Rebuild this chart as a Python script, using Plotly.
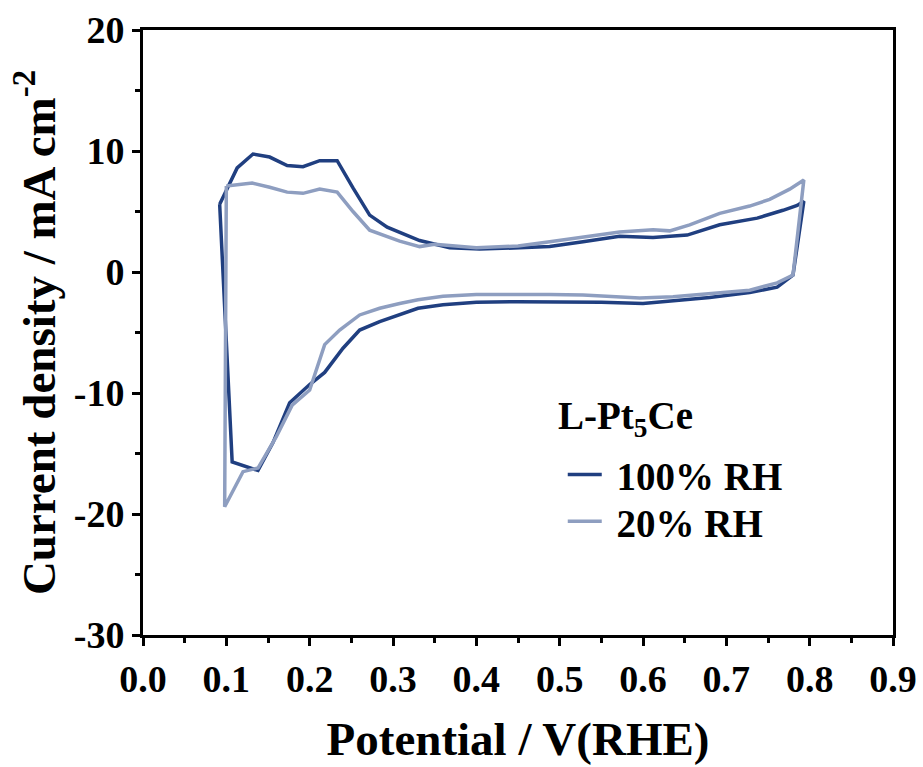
import plotly.graph_objects as go

# 100% RH
x_100 = [0.092, 0.113, 0.132, 0.152, 0.173, 0.192, 0.212, 0.233, 0.252, 0.272, 0.293, 0.308,
         0.332, 0.368, 0.404, 0.452, 0.488, 0.528, 0.572, 0.612, 0.653, 0.692, 0.737, 0.768,
         0.785, 0.793,
         0.78, 0.761, 0.728, 0.68, 0.636, 0.6, 0.55, 0.5, 0.45, 0.4, 0.36, 0.33, 0.308, 0.284,
         0.26, 0.24, 0.218, 0.2, 0.176, 0.156, 0.138, 0.107, 0.092]
y_100 = [5.6, 8.6, 9.75, 9.5, 8.8, 8.7, 9.2, 9.2, 6.95, 4.7, 3.7, 3.3,
         2.6, 2.0, 1.9, 2.0, 2.1, 2.5, 2.95, 2.85, 3.05, 3.9, 4.45, 5.1,
         5.5, 5.85,
         -0.25, -1.25, -1.7, -2.1, -2.4, -2.6, -2.5, -2.45, -2.45, -2.5, -2.7, -3.0, -3.55, -4.1,
         -4.8, -6.3, -8.3, -9.3, -10.8, -14.1, -16.4, -15.7, 5.6]

# 20% RH
x_20 = [0.1, 0.131, 0.152, 0.173, 0.192, 0.212, 0.233, 0.252, 0.272, 0.293, 0.308, 0.332,
        0.35, 0.4, 0.45, 0.488, 0.528, 0.572, 0.612, 0.632, 0.656, 0.692, 0.728, 0.752,
        0.776, 0.793,
        0.78, 0.761, 0.728, 0.68, 0.636, 0.596, 0.528, 0.488, 0.45, 0.4, 0.36, 0.33, 0.308,
        0.284, 0.26, 0.236, 0.218, 0.2, 0.179, 0.16, 0.138, 0.12, 0.098, 0.1]
y_20 = [7.1, 7.35, 7.0, 6.6, 6.5, 6.85, 6.6, 5.0, 3.45, 2.9, 2.55, 2.1,
        2.3, 2.0, 2.15, 2.5, 2.9, 3.3, 3.5, 3.4, 3.9, 4.85, 5.45, 6.0,
        6.85, 7.6,
        -0.25, -0.9, -1.5, -1.8, -2.05, -2.15, -1.9, -1.85, -1.85, -1.85, -2.0, -2.3, -2.6,
        -3.0, -3.55, -4.8, -6.0, -9.75, -11.0, -13.6, -16.2, -16.5, -19.4, 7.1]

x_ticks = [0.0, 0.1, 0.2, 0.3, 0.4, 0.5, 0.6, 0.7, 0.8, 0.9]
x_labels = ["0.0", "0.1", "0.2", "0.3", "0.4", "0.5", "0.6", "0.7", "0.8", "0.9"]
y_ticks = [-30, -20, -10, 0, 10, 20]
y_labels = ["-30", "-20", "-10", "0", "10", "20"]

legend_heading = "L-Pt<sub>5</sub>Ce"

FONT = "Liberation Serif"
DARK = "#203f80"
LIGHT = "#8e9ec0"
NB = "\u00a0"

fig = go.Figure()
fig.add_trace(go.Scatter(x=x_100, y=y_100, mode="lines", name=NB + "100% RH",
                         line=dict(color=DARK, width=3.5), legend="legend"))
fig.add_trace(go.Scatter(x=x_20, y=y_20, mode="lines", name=NB + "20% RH",
                         line=dict(color=LIGHT, width=3.5), legend="legend2"))

axis_common = dict(
    showline=True, linecolor="black", linewidth=3, mirror=True,
    ticks="outside", ticklen=8, tickwidth=3, tickcolor="black",
    showgrid=False, zeroline=False, automargin=False,
    tickfont=dict(family=FONT, size=38, color="black", weight="bold"),
)

fig.update_xaxes(
    range=[0, 0.9], tickvals=x_ticks, ticktext=x_labels,
    minor=dict(dtick=0.05, tick0=0, ticks="outside", ticklen=5, tickwidth=3, tickcolor="black"),
    title=dict(text="Potential / V(RHE)", font=dict(family=FONT, size=47, color="black", weight="bold"),
               standoff=24),
    **axis_common)
fig.update_yaxes(
    range=[-30, 20], tickvals=y_ticks, ticktext=y_labels,
    minor=dict(dtick=5, tick0=0, ticks="outside", ticklen=5, tickwidth=3, tickcolor="black"),
    title=dict(text="Current density / mA cm<sup>-2</sup>",
               font=dict(family=FONT, size=47, color="black", weight="bold"), standoff=4),
    **axis_common)

fig.add_annotation(
    text=legend_heading, xref="paper", yref="paper",
    x=0.5507, y=0.3586, xanchor="left", yanchor="middle", showarrow=False,
    font=dict(family=FONT, size=39, color="black", weight="bold"),
)

legend_common = dict(
    xanchor="left", yanchor="top",
    bgcolor="rgba(0,0,0,0)", borderwidth=0,
    font=dict(family=FONT, size=39, color="black", weight="bold"),
    itemwidth=34, indentation=8,
)

fig.update_layout(
    width=923, height=767,
    margin=dict(l=143, r=30, t=30, b=132, autoexpand=False),
    paper_bgcolor="white", plot_bgcolor="white",
    showlegend=True,
    legend=dict(x=0.549, y=0.318, **legend_common),
    legend2=dict(x=0.549, y=0.2405, **legend_common),
)

fig.write_html("out.html")
